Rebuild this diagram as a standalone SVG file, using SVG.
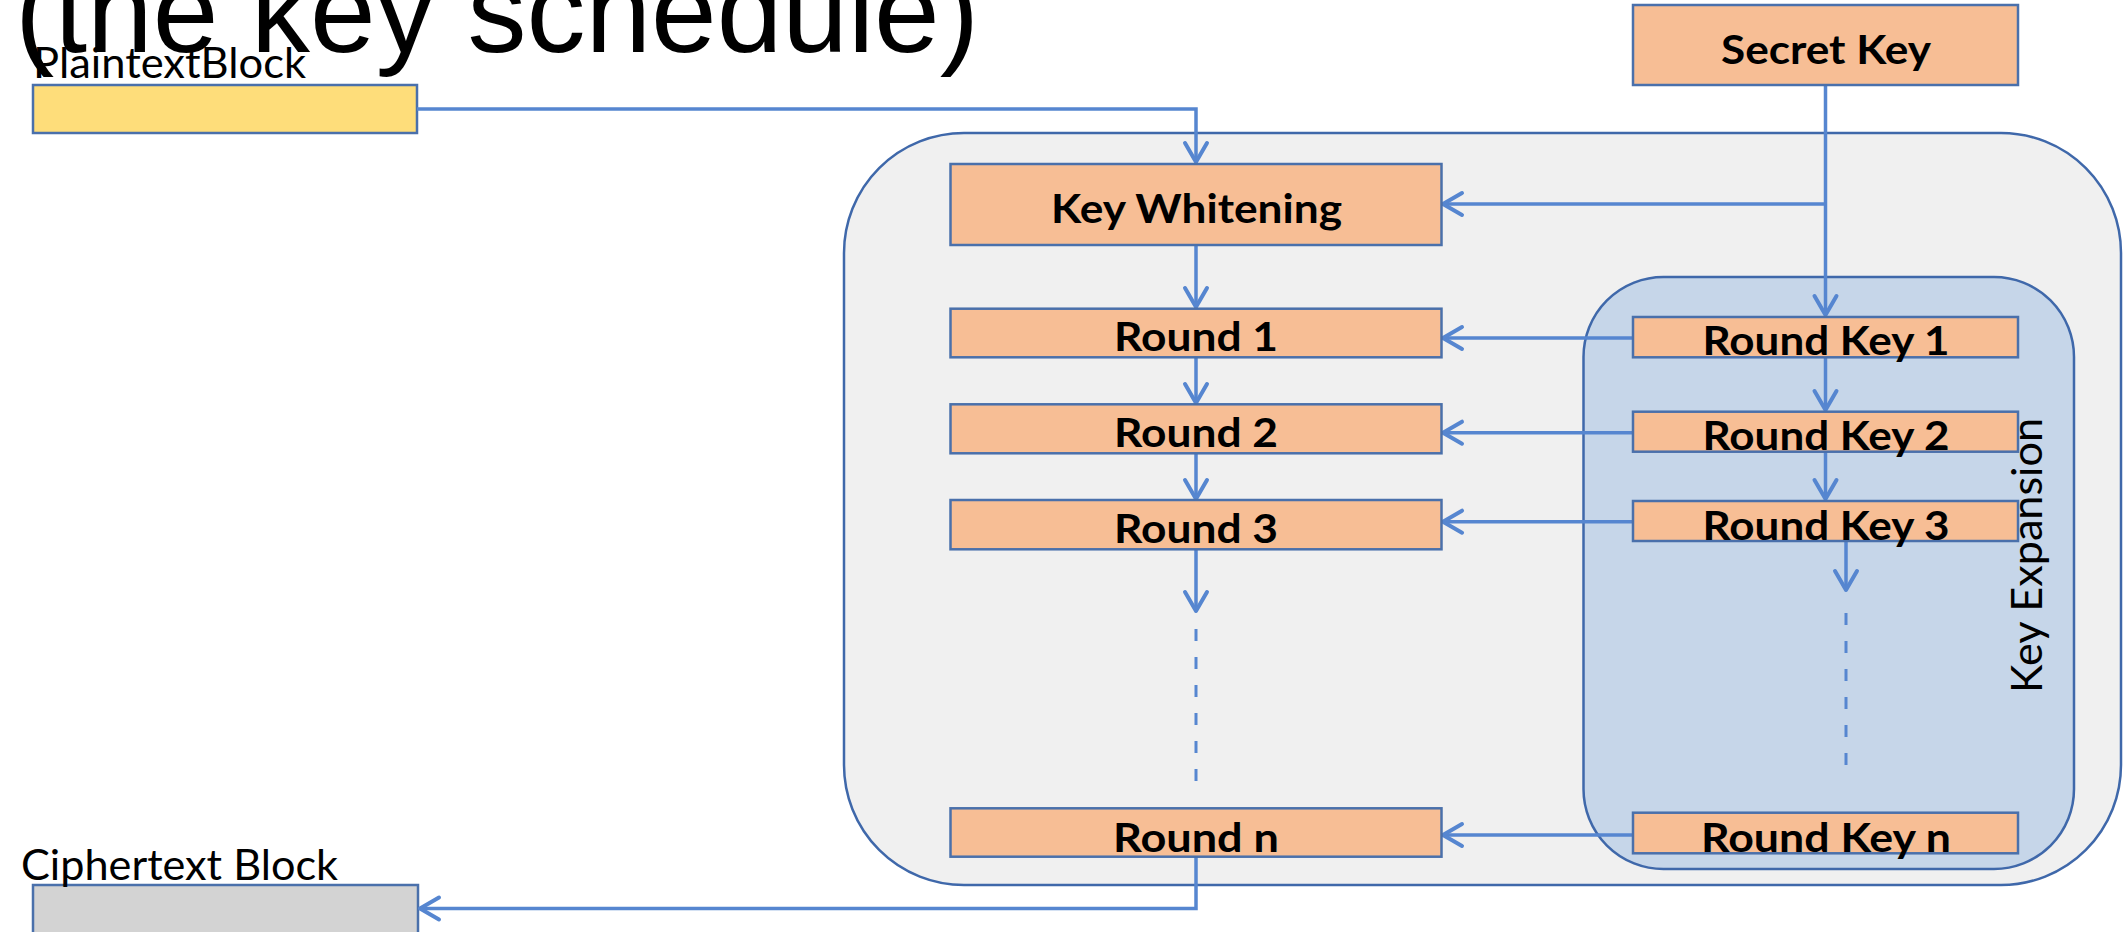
<svg xmlns="http://www.w3.org/2000/svg" width="2124" height="932" viewBox="0 0 2124 932">
<style>
.box{fill:#f7be95;stroke:#4a70ab;stroke-width:2.5}
.lbl{font-family:Lato,"Liberation Sans",sans-serif;font-weight:bold;font-size:41px;fill:#000;text-anchor:middle}
.plain{font-family:Lato,"Liberation Sans",sans-serif;font-size:42px;fill:#000}
.conn{fill:none;stroke:#5686d0;stroke-width:3.5}
.dash{fill:none;stroke:#5686d0;stroke-width:3;stroke-dasharray:12 16}
</style>
<defs>
<marker id="arr" markerUnits="userSpaceOnUse" markerWidth="32" markerHeight="32" viewBox="-26 -16 32 32" refX="0" refY="0" orient="auto">
<path d="M-19,-11 L0,0 L-19,11" fill="none" stroke="#5686d0" stroke-width="4" stroke-linecap="round" stroke-linejoin="round"/>
</marker>
</defs>
<rect width="2124" height="932" fill="#fff"/>
<g id="title">
<text x="15" y="52" font-family="'Liberation Sans',Arial,sans-serif" font-size="118" textLength="964" lengthAdjust="spacingAndGlyphs" fill="#000">(the key schedule)</text>
</g>
<g id="cipher-container">
<rect x="844" y="133" width="1277" height="752" rx="120" ry="120" fill="#f0f0f0" stroke="#3f68aa" stroke-width="2.5"/>
</g>
<g id="key-expansion">
<rect x="1583.5" y="277" width="490.5" height="592" rx="80" ry="80" fill="#c6d6e9" stroke="#3f68aa" stroke-width="2.5"/>
<text class="plain" transform="translate(2041.7,693) rotate(-90)" font-size="43" textLength="275" lengthAdjust="spacingAndGlyphs">Key Expansion</text>
</g>
<g id="plaintext">
<rect x="33" y="85" width="384" height="48" fill="#fedd7a" stroke="#4a70ab" stroke-width="2.5"/>
<text class="plain" x="33" y="78" textLength="273" lengthAdjust="spacingAndGlyphs">PlaintextBlock</text>
</g>
<g id="ciphertext">
<rect x="33" y="885" width="385" height="60" fill="#d3d3d3" stroke="#4a70ab" stroke-width="2.5"/>
<text class="plain" x="21" y="880" textLength="317" lengthAdjust="spacingAndGlyphs">Ciphertext Block</text>
</g>
<g id="connectors">
<path class="conn" d="M417,109 H1196 V162" marker-end="url(#arr)"/>
<path class="conn" d="M1825.5,85 V315" marker-end="url(#arr)"/>
<path class="conn" d="M1825.5,204 H1443" marker-end="url(#arr)"/>
<path class="conn" d="M1196,245 V307" marker-end="url(#arr)"/>
<path class="conn" d="M1196,357 V403" marker-end="url(#arr)"/>
<path class="conn" d="M1196,453 V499" marker-end="url(#arr)"/>
<path class="conn" d="M1196,549 V611" marker-end="url(#arr)"/>
<path class="dash" d="M1196,629 V785"/>
<path class="conn" d="M1633,338 H1443" marker-end="url(#arr)"/>
<path class="conn" d="M1633,432.7 H1443" marker-end="url(#arr)"/>
<path class="conn" d="M1633,521.7 H1443" marker-end="url(#arr)"/>
<path class="conn" d="M1633,835 H1443" marker-end="url(#arr)"/>
<path class="conn" d="M1825.5,357 V410" marker-end="url(#arr)"/>
<path class="conn" d="M1825.5,452 V499" marker-end="url(#arr)"/>
<path class="conn" d="M1846,541 V590" marker-end="url(#arr)"/>
<path class="dash" d="M1846,613 V768"/>
<path class="conn" d="M1196,857 V908.5 H420" marker-end="url(#arr)"/>
</g>
<g id="secret-key">
<rect class="box" x="1633" y="5" width="385" height="80"/>
<text class="lbl" x="1826" y="64" textLength="210" lengthAdjust="spacingAndGlyphs">Secret Key</text>
</g>
<g id="key-whitening">
<rect class="box" x="950.5" y="164" width="491" height="81"/>
<text class="lbl" x="1196.5" y="223" textLength="291" lengthAdjust="spacingAndGlyphs">Key Whitening</text>
</g>
<g id="round-1">
<rect class="box" x="950.5" y="308.7" width="491" height="48.6"/>
<text class="lbl" x="1196" y="351" textLength="164" lengthAdjust="spacingAndGlyphs">Round 1</text>
</g>
<g id="round-2">
<rect class="box" x="950.5" y="404.3" width="491" height="49"/>
<text class="lbl" x="1196" y="446.7" textLength="164" lengthAdjust="spacingAndGlyphs">Round 2</text>
</g>
<g id="round-3">
<rect class="box" x="950.5" y="500" width="491" height="49.3"/>
<text class="lbl" x="1196" y="542.7" textLength="164" lengthAdjust="spacingAndGlyphs">Round 3</text>
</g>
<g id="round-n">
<rect class="box" x="950.5" y="808.3" width="491" height="48.4"/>
<text class="lbl" x="1196" y="851.7" textLength="166" lengthAdjust="spacingAndGlyphs">Round n</text>
</g>
<g id="round-key-1">
<rect class="box" x="1633" y="317" width="385" height="40.3"/>
<text class="lbl" x="1826" y="355" textLength="247" lengthAdjust="spacingAndGlyphs">Round Key 1</text>
</g>
<g id="round-key-2">
<rect class="box" x="1633" y="411.7" width="385" height="40"/>
<text class="lbl" x="1826" y="450" textLength="247" lengthAdjust="spacingAndGlyphs">Round Key 2</text>
</g>
<g id="round-key-3">
<rect class="box" x="1633" y="501" width="385" height="40"/>
<text class="lbl" x="1826" y="540" textLength="247" lengthAdjust="spacingAndGlyphs">Round Key 3</text>
</g>
<g id="round-key-n">
<rect class="box" x="1633" y="812.7" width="385" height="40.6"/>
<text class="lbl" x="1826" y="851.7" textLength="250" lengthAdjust="spacingAndGlyphs">Round Key n</text>
</g>
</svg>
